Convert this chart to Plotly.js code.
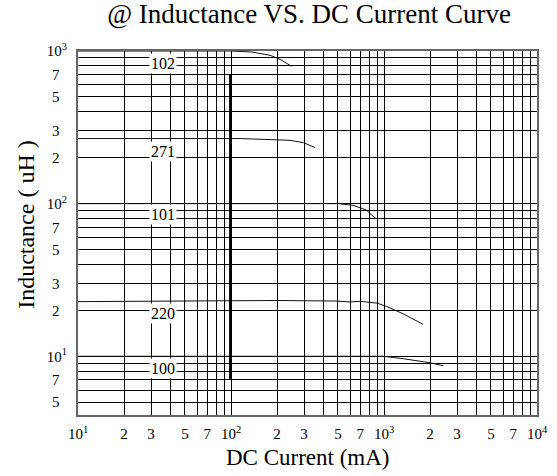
<!DOCTYPE html>
<html>
<head>
<meta charset="utf-8">
<script src="https://cdn.plot.ly/plotly-3.0.1.min.js"></script>
<style>html,body{margin:0;padding:0;background:#fff;}#chart{width:557px;height:476px;}</style>
</head>
<body>
<div id="chart"></div>
<script>
// ---- data (DC current in mA, inductance in uH) ----
var c102x = [10, 100, 137, 180, 209, 249];
var c102y = [1000, 1000, 985, 937, 882, 794];
var c271x = [10, 115, 243, 297, 354];
var c271y = [267, 267, 260, 251, 233];
var c101x = [10, 500, 627, 697, 771, 810, 887];
var c101y = [100, 100, 97.6, 93.5, 90.6, 86, 79.6];
var c220x = [10, 200, 490, 600, 700, 900, 1040, 1330, 1800];
var c220y = [22.8, 23.2, 23.0, 22.7, 22.9, 22.3, 21.2, 19.0, 16.2];
var c100x = [10, 990, 1337, 2000, 2443];
var c100y = [10, 10, 9.64, 9.07, 8.67];
var markerX = [99, 99];
var markerY = [7.07, 700];

var labelNames = ["102", "271", "101", "220", "100"];
var labelCurrent = [36, 36, 36, 36, 36];
var labelInductance = [825, 218, 85, 19.0, 8.3];

// labelled ticks
var xTickVals = [10,20,30,50,70,100,200,300,500,700,1000,2000,3000,5000,7000,10000];
var xTickText = ["10<sup>1</sup>","2","3","5","7","10<sup>2</sup>","2","3","5","7","10<sup>3</sup>","2","3","5","7","10<sup>4</sup>"];
var yTickVals = [5,7,10,20,30,50,70,100,200,300,500,700,1000];
var yTickText = ["5","7","10<sup>1</sup>","2","3","5","7","10<sup>2</sup>","2","3","5","7","10<sup>3</sup>"];
// grid lines (every 1..9 of each decade)
var xGridVals = [10,20,30,40,50,60,70,80,90,100,200,300,400,500,600,700,800,900,1000,2000,3000,4000,5000,6000,7000,8000,9000,10000];
var yGridVals = [5,6,7,8,9,10,20,30,40,50,60,70,80,90,100,200,300,400,500,600,700,800,900,1000];

var NB = "\u00A0\u00A0";
yTickText = yTickText.map(function(t){ return (t.indexOf("sup") < 0) ? t + NB : t; });

var series = [[c102x,c102y],[c271x,c271y],[c101x,c101y],[c220x,c220y],[c100x,c100y]];
var traces = series.map(function(s){
  return {x:s[0], y:s[1], mode:'lines', type:'scatter', line:{color:'#111', width:1}, hoverinfo:'skip', showlegend:false};
});
traces.push({x:markerX, y:markerY, mode:'lines', type:'scatter', line:{color:'#000', width:2.5}, hoverinfo:'skip', showlegend:false});

var fontFam = 'Liberation Serif';
var annotations = labelNames.map(function(n,i){
  return {x:Math.log10(labelCurrent[i]), y:Math.log10(labelInductance[i]), xref:'x', yref:'y', text:n,
    showarrow:false, bgcolor:'#fff', borderpad:1, font:{family:fontFam, size:16, color:'#000'}};
});
annotations.push({xref:'paper', yref:'paper', x:-0.115, y:0.523, text:'Inductance ( uH )', textangle:-90,
  showarrow:false, font:{family:fontFam, size:24, color:'#000'}, xanchor:'center', yanchor:'middle'});
annotations.push({xref:'paper', yref:'paper', x:0.5, y:-0.08, text:'DC Current (mA)',
  showarrow:false, font:{family:fontFam, size:23, color:'#000'}, xanchor:'center', yanchor:'top', borderpad:0});

var layout = {
  width:557, height:476,
  margin:{l:78, r:20, t:51, b:61},
  paper_bgcolor:'#fff', plot_bgcolor:'#fff',
  font:{family:fontFam, color:'#000'},
  title:{text:'@ Inductance VS. DC Current Curve', font:{family:fontFam, size:27, color:'#000'}, x:0.555, xanchor:'center', y:0.992, yanchor:'top'},
  xaxis:{type:'log', range:[1,4], tickmode:'array', tickvals:xTickVals, ticktext:xTickText,
    showgrid:true, gridcolor:'#000', gridwidth:1, zeroline:false,
    minor:{tickmode:'array', tickvals:xGridVals, showgrid:true, gridcolor:'#000', gridwidth:1, ticks:''},
    showline:true, mirror:true, linecolor:'#666', linewidth:2, ticks:'', ticklen:0, ticklabelstandoff:4,
    tickfont:{family:fontFam, size:15, color:'#000'}},
  yaxis:{type:'log', range:[0.6153, 3], tickmode:'array', tickvals:yTickVals, ticktext:yTickText,
    showgrid:true, gridcolor:'#000', gridwidth:1, zeroline:false,
    minor:{tickmode:'array', tickvals:yGridVals, showgrid:true, gridcolor:'#000', gridwidth:1, ticks:''},
    showline:true, mirror:true, linecolor:'#666', linewidth:2, ticks:'', ticklen:0, ticklabelstandoff:6,
    tickfont:{family:fontFam, size:15, color:'#000'}},
  annotations:annotations
};
Plotly.newPlot('chart', traces, layout, {displayModeBar:false, staticPlot:true});
</script>
</body>
</html>
